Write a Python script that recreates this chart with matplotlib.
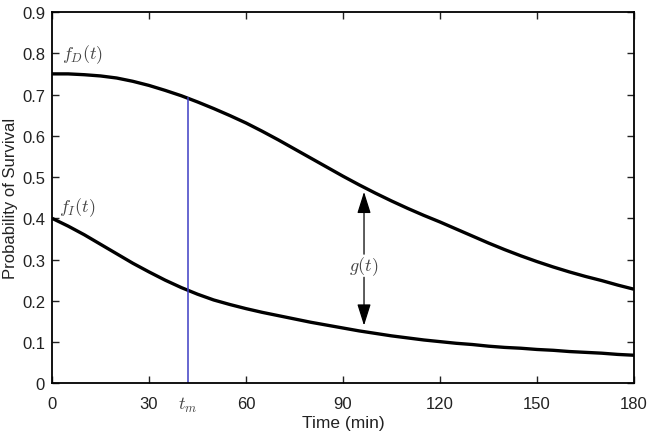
import matplotlib
matplotlib.use("Agg")
import matplotlib.pyplot as plt

plt.rcParams['font.family'] = ['Liberation Sans', 'DejaVu Sans']
plt.rcParams['mathtext.fontset'] = 'cm'

# Data
t = [0, 5, 10, 15, 20, 25, 30, 35, 40, 45, 50, 55, 60, 65, 70, 75, 80, 85, 90,
     95, 100, 105, 110, 115, 120, 125, 130, 135, 140, 145, 150, 155, 160, 165,
     170, 175, 180]
f_D = [0.750, 0.750, 0.748, 0.745, 0.740, 0.732, 0.722, 0.710, 0.697, 0.682,
       0.666, 0.649, 0.631, 0.611, 0.590, 0.568, 0.546, 0.524, 0.502, 0.481,
       0.461, 0.442, 0.424, 0.407, 0.391, 0.374, 0.357, 0.340, 0.324, 0.309,
       0.295, 0.282, 0.270, 0.259, 0.249, 0.238, 0.228]
f_I = [0.400, 0.381, 0.360, 0.337, 0.314, 0.291, 0.270, 0.250, 0.232, 0.216,
       0.202, 0.191, 0.181, 0.172, 0.164, 0.156, 0.148, 0.141, 0.134, 0.127,
       0.121, 0.115, 0.110, 0.105, 0.101, 0.097, 0.094, 0.090, 0.087, 0.085,
       0.082, 0.080, 0.077, 0.075, 0.073, 0.070, 0.068]
t_m = 42
f_D_tm = 0.692
t_arrow = 96.5
arrow_top = 0.464
arrow_bottom = 0.140
x_ticks = [0, 30, 60, 90, 120, 150, 180]
y_ticks = [0, 0.1, 0.2, 0.3, 0.4, 0.5, 0.6, 0.7, 0.8, 0.9]
y_tick_labels = ['0', '0.1', '0.2', '0.3', '0.4', '0.5', '0.6', '0.7', '0.8', '0.9']

fig = plt.figure(figsize=(6.49, 4.35), dpi=100)
ax = fig.add_axes([52 / 649, 1 - 384.3 / 435, 582 / 649, (384.3 - 13) / 435])

ax.plot(t, f_D, color='black', lw=2.4, solid_capstyle='butt')
ax.plot(t, f_I, color='black', lw=2.4, solid_capstyle='butt')
ax.plot([t_m, t_m], [0, f_D_tm], color='#3d3dc4', lw=1.1)

# double arrow g(t)
akw = dict(arrowstyle='-|>,head_length=0.95,head_width=0.3', color='black',
           lw=0.9, mutation_scale=14, shrinkA=0, shrinkB=0)
ax.annotate('', xy=(t_arrow, arrow_top), xytext=(t_arrow, 0.313), arrowprops=akw)
ax.annotate('', xy=(t_arrow, arrow_bottom), xytext=(t_arrow, 0.257), arrowprops=akw)
ax.text(t_arrow, 0.285, r'$g(t)$', ha='center', va='center', fontsize=13, color='#444444')

ax.text(3.0, 0.80, r'$f_D(t)$', ha='left', va='center', fontsize=13, color='#444444')
ax.text(2.3, 0.428, r'$f_I(t)$', ha='left', va='center', fontsize=13, color='#444444')
ax.text(t_m, -0.052, r'$t_m$', ha='center', va='center', fontsize=13, color='#444444')

ax.set_xlim(0, 180)
ax.set_ylim(0, 0.9)
ax.set_xticks(x_ticks)
ax.set_yticks(y_ticks)
ax.set_yticklabels(y_tick_labels)
ax.tick_params(direction='in', length=5, width=1, top=True, right=True,
               labelsize=12, colors='#222222')
ax.tick_params(axis='x', pad=9)
ax.tick_params(axis='y', pad=5)
for s in ax.spines.values():
    s.set_linewidth(1.3)

ax.set_xlabel('Time (min)', fontsize=12.5, labelpad=3, color='#222222')
ax.set_ylabel('Probability of Survival', fontsize=12, color='#222222')
ax.yaxis.set_label_coords(-0.058, 0.5)

fig.savefig('out.png', dpi=100)
